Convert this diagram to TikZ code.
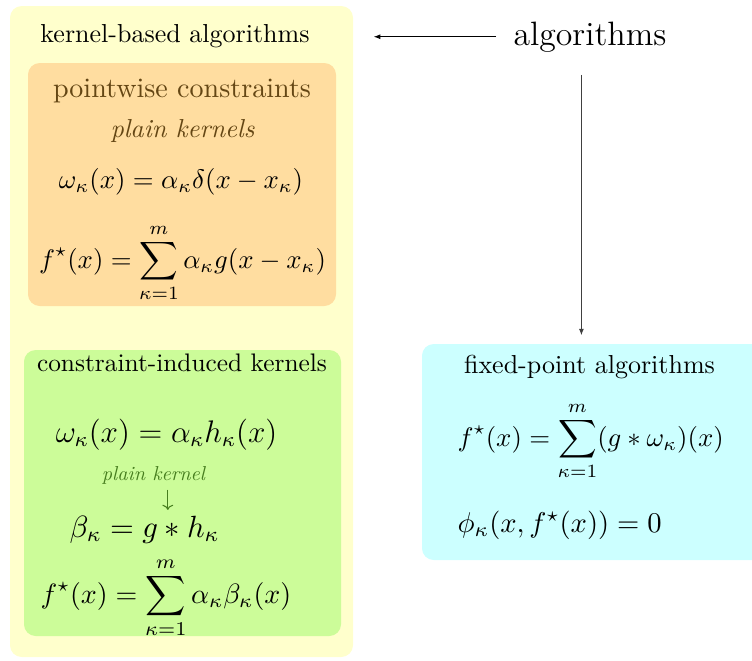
\documentclass[tikz,border=0pt]{standalone}
\usepackage{fix-cm}
\usepackage{amsmath,amssymb}
\usetikzlibrary{arrows.meta,fit,positioning}
\definecolor{kyellow}{RGB}{255,255,204}
\definecolor{korange}{RGB}{255,221,160}
\definecolor{kgreen}{RGB}{204,252,153}
\definecolor{kcyan}{RGB}{204,255,255}
\definecolor{kbrown}{RGB}{100,70,20}
\definecolor{kleaf}{RGB}{70,125,30}

\begin{document}
\begin{tikzpicture}[x=0.3846pt,y=-0.3846pt, >={Latex[length=2.6pt,width=1.9pt]},
 panel/.style={fill=#1,rounded corners=4.5pt,inner sep=0pt},
 head/.style={anchor=base,font=\fontsize{#1}{12}\selectfont},
 eqn/.style={anchor=base,font=\fontsize{#1}{14}\selectfont}]
\useasboundingbox (0,0) rectangle (752,660);
\node[panel=kyellow,fit={(10,6) (353,657)}] (kb) {};
\node[panel=korange,fit={(28,63) (336,306)}] (pw) {};
\node[panel=kgreen,fit={(24,350) (341,636)}] (ci) {};
\node[panel=kcyan,fit={(422,344) (800,560)}] (fp) {};
\node[head=10] (kbt) at (175,42) {kernel-based algorithms};
\node[head=10.8,text=kbrown] (pwt) at (182,97) {pointwise constraints};
\node[head=10,text=kbrown] (pwk) at (182.5,137) {\itshape plain kernels};
\node[eqn=10.3] (pw1) at (181,188) {$\omega_\kappa(x)=\alpha_\kappa\delta(x-x_\kappa)$};
\node[eqn=10.3] (pw2) at (182.5,268) {$\displaystyle f^\star(x)=\sum_{\kappa=1}^{m}\alpha_\kappa g(x-x_\kappa)$};
\node[head=9.75] (cit) at (182,371) {constraint-induced kernels};
\node[eqn=12] (ci1) at (166.5,442) {$\omega_\kappa(x)=\alpha_\kappa h_\kappa(x)$};
\node[head=10,text=kleaf,inner sep=0.5pt] (cik) at (153.5,480) {\scalebox{0.775}{\itshape plain kernel}};
\node[eqn=11.8] (ci2) at (144.5,537) {$\beta_\kappa=g\ast h_\kappa$};
\node[eqn=10.75] (ci3) at (166,603) {$\displaystyle f^\star(x)=\sum_{\kappa=1}^{m}\alpha_\kappa\beta_\kappa(x)$};
\node[head=13,inner sep=6.5pt] (alg) at (590,45) {algorithms};
\node[head=10] (fpt) at (589.5,373) {fixed-point algorithms};
\node[eqn=10.3,anchor=base west,inner sep=0pt] (fp1) at (457,446) {$\displaystyle f^\star(x)=\sum_{\kappa=1}^{m}(g\ast\omega_\kappa)(x)$};
\node[eqn=11,anchor=base west,inner sep=0pt] (fp2) at (457,532) {$\phi_\kappa(x,f^\star(x))=0$};
\draw[->] (alg.west) -- (alg.west -| kb.east) [shorten >=7.7pt];
\draw[->,black!75,line width=0.6pt,shorten <=2.1pt,shorten >=3pt] ([xshift=-3.3pt]alg.south) -- ([xshift=-3.3pt]alg.south |- fp.north);
\draw[-{To[length=2pt]},kleaf,shorten <=1.5pt,shorten >=-1.3pt] ([xshift=5.5pt]cik.south) -- ([xshift=5.5pt]cik.south |- ci2.north);
\end{tikzpicture}
\end{document}
